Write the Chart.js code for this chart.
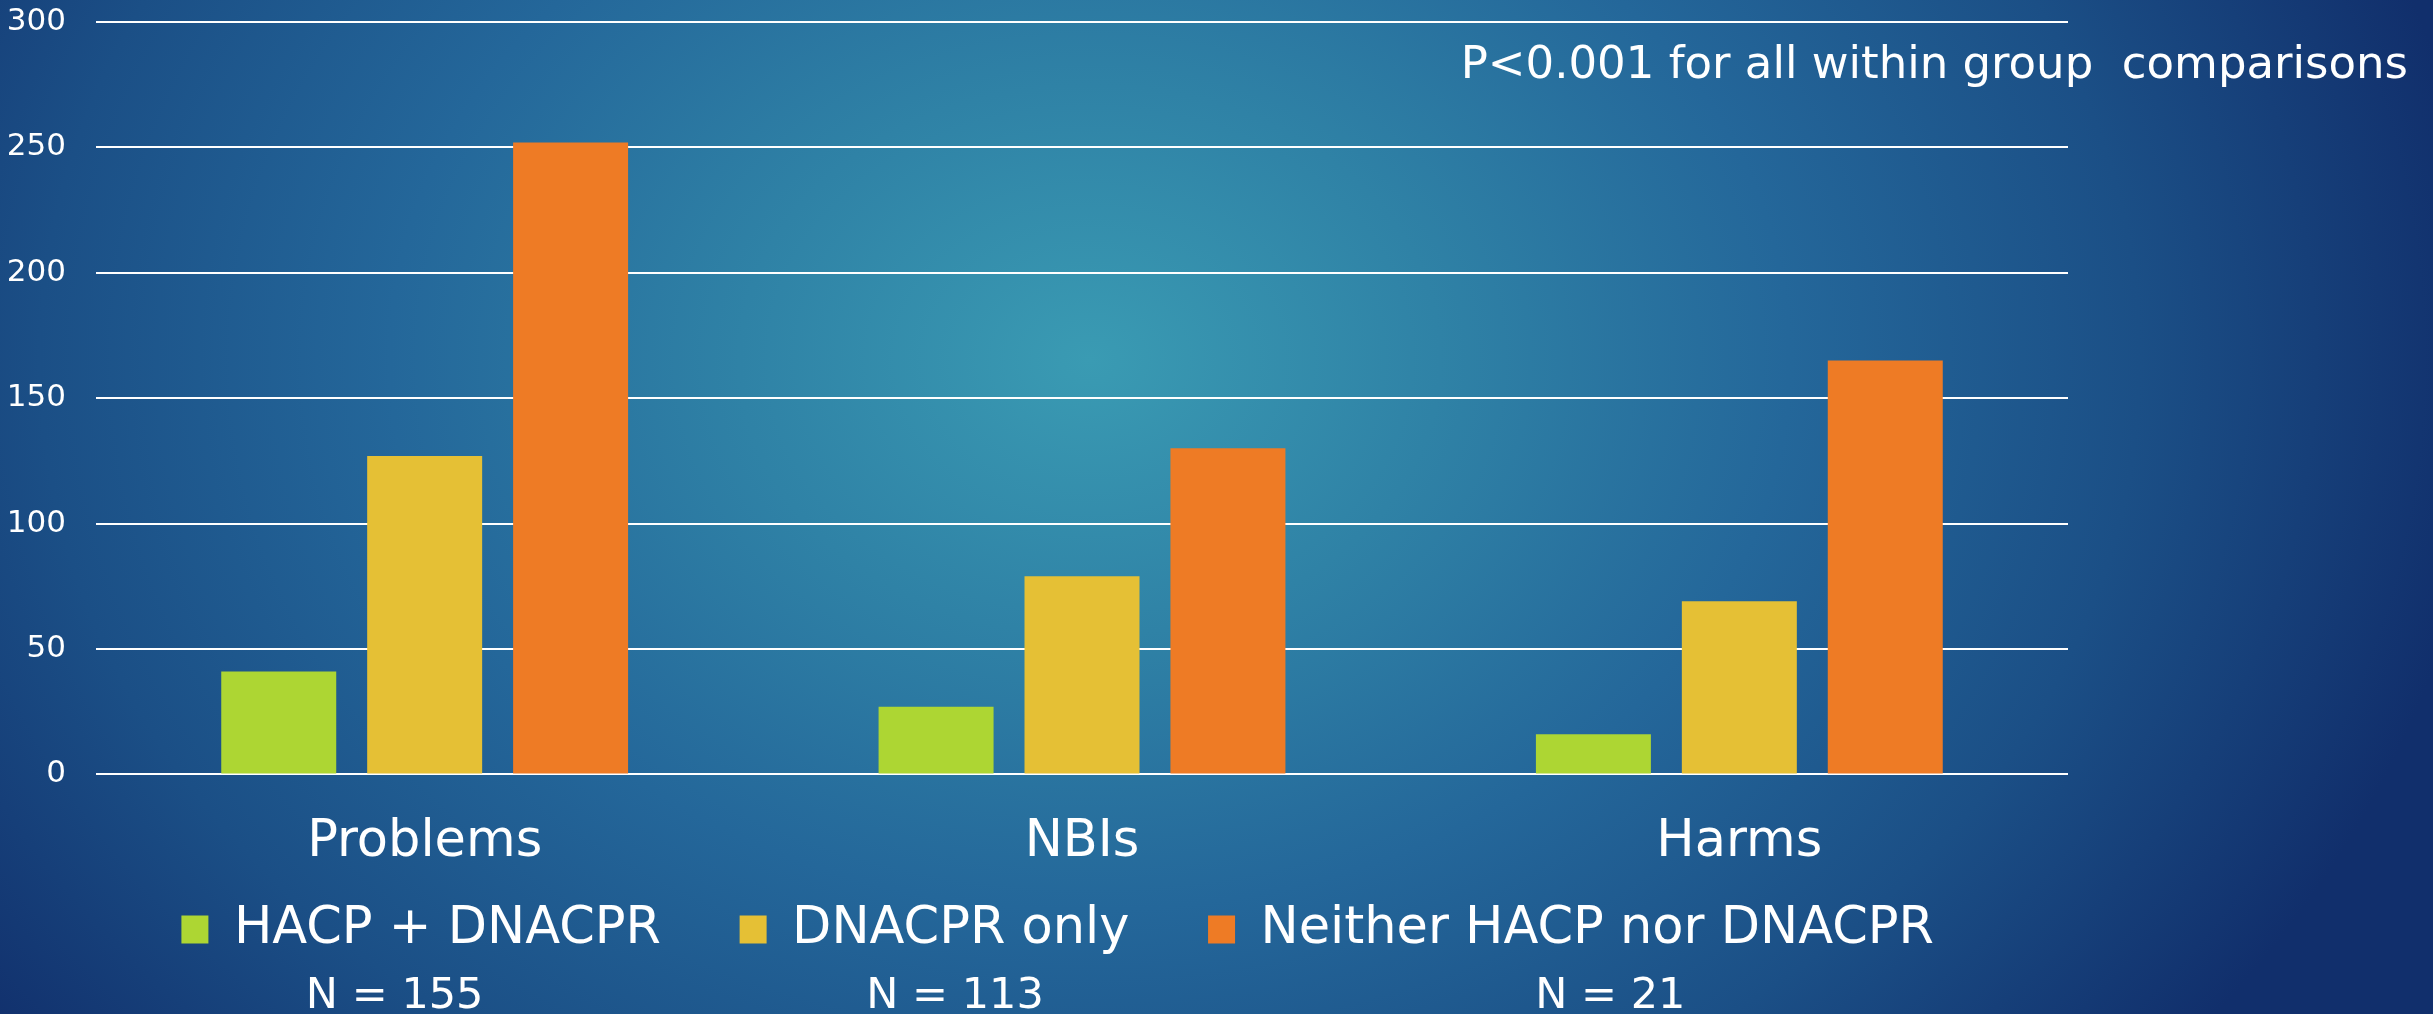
<!DOCTYPE html>
<html>
<head>
<meta charset="utf-8">
<script src="https://cdn.jsdelivr.net/npm/chart.js@4/dist/chart.umd.min.js"></script>
<style>
  html, body { margin: 0; padding: 0; width: 2433px; height: 1014px; overflow: hidden; }
  body {
    background:
      radial-gradient(ellipse 1400px 1100px at 1090px 360px,
        #3a9bb3 0%, #2f82a6 25%, #24679a 50%, #1b4f86 75%, #112f6c 100%);
  }
  #wrap { position: absolute; left: 0; top: 0; width: 2433px; height: 1014px; }
</style>
</head>
<body>
<div id="wrap"><canvas id="c" width="2433" height="1014"></canvas></div>
<script>
const categories = ["Problems", "NBIs", "Harms"];
const seriesNames = ["HACP + DNACPR", "DNACPR only", "Neither HACP nor DNACPR"];
const hacpDnacpr = [41, 27, 16];
const dnacprOnly = [127, 79, 69];
const neither = [252, 130, 165];
const groupSizes = ["N = 155", "N = 113", "N = 21"];
const yTicks = [0, 50, 100, 150, 200, 250, 300];
const note = "P<0.001 for all within group  comparisons";

const colors = ["#add633", "#e5c035", "#ee7b25"];
const FONT = "'DejaVu Sans', sans-serif";

const annotations = {
  id: 'annotations',
  afterDraw(chart) {
    const ctx = chart.ctx;
    const xs = chart.scales.x;
    const offsets = [-30, -127, -129];
    ctx.save();
    ctx.fillStyle = '#ffffff';
    ctx.font = "43px " + FONT;
    ctx.textBaseline = 'middle';
    ctx.textAlign = 'center';
    groupSizes.forEach((t, i) => {
      ctx.fillText(t, xs.getPixelForValue(i) + offsets[i], 997);
    });
    ctx.font = "45px " + FONT;
    ctx.textAlign = 'right';
    ctx.fillText(note, 2408, 66);
    ctx.restore();
  }
};

new Chart(document.getElementById('c'), {
  type: 'bar',
  data: {
    labels: categories,
    datasets: [
      { label: seriesNames[0], data: hacpDnacpr, backgroundColor: colors[0] },
      { label: seriesNames[1], data: dnacprOnly, backgroundColor: colors[1] },
      { label: seriesNames[2], data: neither, backgroundColor: colors[2] }
    ]
  },
  options: {
    responsive: false,
    animation: false,
    devicePixelRatio: 1,
    layout: { padding: { left: 0, right: 365, top: 22, bottom: 49 } },
    datasets: { bar: { categoryPercentage: 0.666, barPercentage: 0.788 } },
    scales: {
      x: {
        grid: { display: false },
        border: { display: false },
        ticks: { color: '#ffffff', font: { family: FONT, size: 51 }, padding: 30 },
        afterFit(s) { s.height = 99.6; }
      },
      y: {
        min: 0, max: 300,
        afterBuildTicks(s) { s.ticks = yTicks.map(v => ({ value: v })); },
        grid: { color: '#ffffff', lineWidth: 2, drawTicks: false },
        border: { display: false },
        ticks: { color: '#ffffff', font: { family: FONT, size: 31 }, padding: 30 },
        afterFit(s) { s.width = 96; s.paddingTop = 0; s.paddingBottom = 0; }
      }
    },
    plugins: {
      tooltip: { enabled: false },
      legend: {
        position: 'bottom',
        fullSize: false,
        labels: {
          color: '#ffffff',
          font: { family: FONT, size: 51 },
          boxWidth: 27,
          boxHeight: 28,
          padding: 30,
          generateLabels(chart) {
            return chart.data.datasets.map((d, i) => ({
              text: d.label + '   ',
              fillStyle: d.backgroundColor,
              strokeStyle: d.backgroundColor,
              lineWidth: 0,
              hidden: false,
              datasetIndex: i,
              fontColor: '#ffffff'
            }));
          }
        }
      }
    }
  },
  plugins: [annotations]
});
</script>
</body>
</html>
